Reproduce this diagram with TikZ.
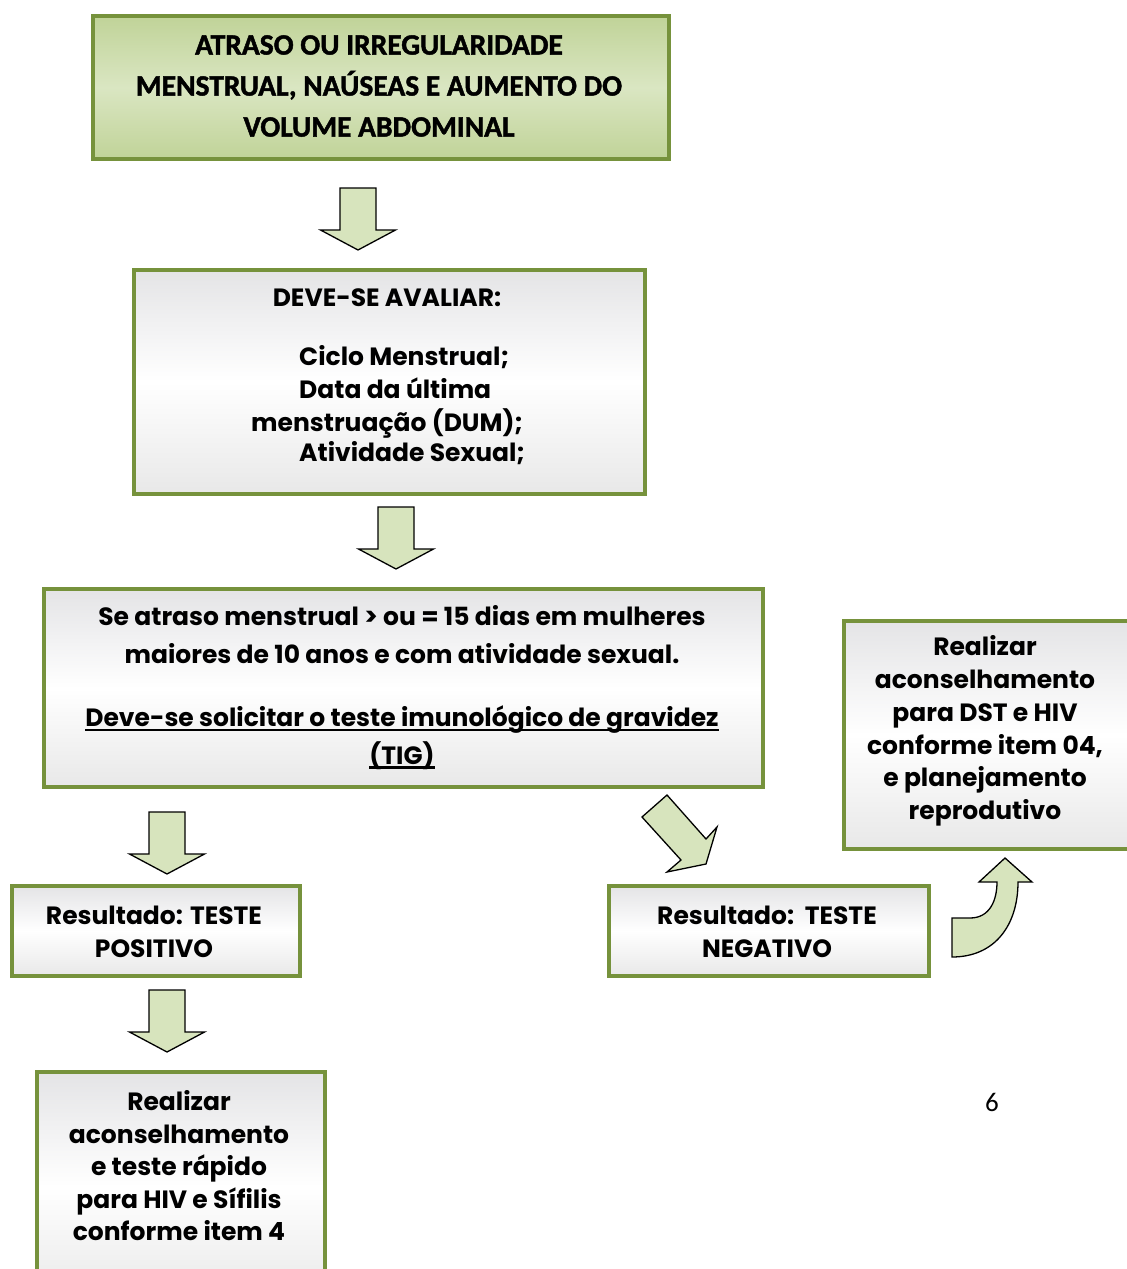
\documentclass[tikz,border=0pt]{standalone}
\usepackage{fontspec}
\setmainfont{Poppins}
\newfontfamily\calfont{Carlito}[BoldFeatures={FakeBold=1.5}]
\definecolor{boxgreen}{RGB}{118,146,60}
\definecolor{lightgreen}{RGB}{215,228,189}
\definecolor{gtop}{RGB}{192,211,152}
\definecolor{gmid}{RGB}{218,230,194}
\definecolor{ltop}{RGB}{228,228,230}
\definecolor{lbot}{RGB}{232,232,232}
\newcommand\thickul[1]{\leavevmode\setbox0\hbox{#1}\rlap{\rule[-4.5pt]{\wd0}{2.3pt}}\box0}
\begin{document}
\begin{tikzpicture}[x=1pt,y=-1pt,
  box/.style={draw=boxgreen, line width=4pt, anchor=north west, inner sep=0pt,
    top color=ltop, bottom color=lbot, middle color=white},
  gbox/.style={box, top color=gtop, bottom color=gtop, middle color=gmid},
  txt/.style={font=\fontsize{25}{33}\bfseries, align=center, inner sep=0pt},
  arr/.style={draw=black, line width=1.3pt, fill=lightgreen, line join=miter},
  downarrow/.pic={\draw[arr] (-18,0) -- (18,0) -- (18,42) -- (37.5,42) -- (0,62) -- (-37.5,42) -- (-18,42) -- cycle;}
]
\useasboundingbox (0,0) rectangle (1127,1269);
% boxes
\node[gbox, minimum width=576, minimum height=143] (b1) at (91,14) {};
\node[box, minimum width=511, minimum height=224] (b2) at (132,268) {};
\node[box, minimum width=719, minimum height=198] (b3) at (42,587) {};
\node[box, minimum width=300, minimum height=228] (b4) at (842,619) {};
\node[box, minimum width=288, minimum height=90] (b5) at (10,884) {};
\node[box, minimum width=320, minimum height=90] (b6) at (607,884) {};
\node[box, minimum width=288, minimum height=230] (b7) at (35,1070) {};
% texts
\node[txt, font=\calfont\fontsize{29.5}{41}\bfseries] (t1) at (379,86)
  {ATRASO OU IRREGULARIDADE\\MENSTRUAL, NAÚSEAS E AUMENTO DO\\VOLUME ABDOMINAL};
\node[txt] (t2a) at (387,298) {DEVE-SE AVALIAR:};
\node[txt, align=left, anchor=west] (t2b) at (251,405)
  {\hspace*{48pt}Ciclo Menstrual;\\\hspace*{48pt}Data da última\\menstruação (DUM);\\[-3pt]\hspace*{48pt}Atividade Sexual;};
\node[txt, font=\fontsize{25}{37.5}\bfseries] (t3) at (402,687.5)
  {Se atraso menstrual > ou = 15 dias em mulheres\\maiores de 10 anos e com atividade sexual.\\[26pt]
   \thickul{Deve-se solicitar o teste imunológico de gravidez}\\\thickul{(TIG)}};
\node[txt, font=\fontsize{25}{32.8}\bfseries] (t4) at (985,731)
  {Realizar\\aconselhamento\\para DST e HIV\\conforme item 04,\\e planejamento\\reprodutivo};
\node[txt] (t5) at (154,931.5) {Resultado: TESTE\\POSITIVO};
\node[txt] (t6) at (767,931.5) {Resultado:\ \ TESTE\\NEGATIVO};
\node[txt, font=\fontsize{25}{32.5}\bfseries] (t7) at (179,1166)
  {Realizar\\aconselhamento\\e teste rápido\\para HIV e Sífilis\\conforme item 4};
\node[inner sep=0pt, font=\calfont\fontsize{27}{30}\selectfont] (pg) at (992,1102) {6};
% block arrows
\pic at (358,188) {downarrow};
\pic at (396,507) {downarrow};
\pic at (167,812) {downarrow};
\pic at (167,990) {downarrow};
\draw[arr] (642,817) -- (667,795) -- (706,839) -- (717,827) -- (706,864) -- (667,872) -- (681,860) -- cycle;
\draw[arr] (952,918) -- (970,918) .. controls (990,918) and (997,900) .. (997,882)
  -- (979,882) -- (1005,858) -- (1032,882) -- (1018,882)
  .. controls (1018,925) and (995,957) .. (952,957) -- cycle;
\end{tikzpicture}
\end{document}
